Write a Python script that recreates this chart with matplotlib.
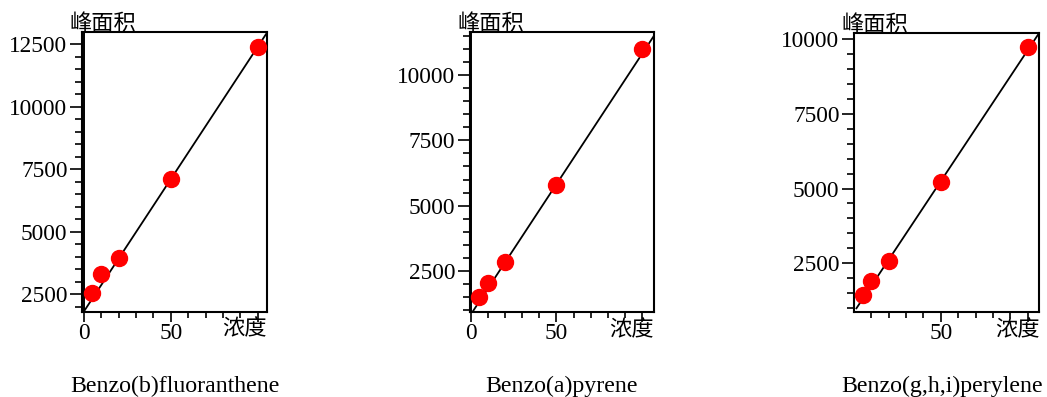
import matplotlib
matplotlib.use("Agg")
import matplotlib.pyplot as plt
from matplotlib.ticker import FixedLocator, MultipleLocator, FuncFormatter
import numpy as np

# ---- data ----
compounds = ["Benzo(b)fluoranthene", "Benzo(a)pyrene", "Benzo(g,h,i)perylene"]
conc = [5, 10, 20, 50, 100]
area_bbf = [2550, 3300, 3930, 7100, 12400]
area_bap = [1500, 2040, 2850, 5800, 11010]
area_bghip = [1440, 1910, 2590, 5220, 9720]
areas = [area_bbf, area_bap, area_bghip]

# calibration lines (intercept, slope) and drawn x-range
fit_intercept = [1792, 800, 872]
fit_slope = [106.0, 100.4, 87.5]
fit_x_start = [0, 1, 1.4]
fit_x_end = [105.3, 106.4, 106.1]

# axis ranges
x_ranges = [(-1.0, 105.3), (-0.6, 106.8), (0.0, 106.7)]
y_ranges = [(1780, 12980), (900, 11654), (861, 10190)]
y_major = [[2500, 5000, 7500, 10000, 12500], [2500, 5000, 7500, 10000], [2500, 5000, 7500, 10000]]
x_major = [[0, 50, 100], [0, 50, 100], [50, 100]]
x_major_labels = [["0", "50", ""], ["0", "50", ""], ["50", ""]]
x_minor = [10, 20, 30, 40, 60, 70, 80, 90]

y_label = "峰面积"
x_label = "浓度"

# ---- layout (figure pixels) ----
W, H = 1047, 397
boxes = [(82, 32, 267, 312), (469.5, 32.3, 654, 312.3), (854, 33.3, 1039.3, 312.3)]
title_centers = [174.7, 562, 942]

serif = ["Liberation Serif", "DejaVu Serif"]
cjk = ["Noto Sans CJK SC", "DejaVu Sans"]

fig = plt.figure(figsize=(W / 100, H / 100), dpi=100)

for i in range(3):
    l, t, r, b = boxes[i]
    ax = fig.add_axes([l / W, (H - b) / H, (r - l) / W, (b - t) / H])
    xs = np.array([fit_x_start[i], fit_x_end[i]])
    ax.plot(xs, fit_intercept[i] + fit_slope[i] * xs, color="black", lw=1.3, zorder=2)
    ax.plot(conc, areas[i], "o", color="#ff0000", ms=11.5, mec="#ff0000", zorder=3)
    if x_ranges[i][0] < 0:
        ax.axvline(0, color="black", lw=1.4, zorder=1)
    ax.set_xlim(*x_ranges[i])
    ax.set_ylim(*y_ranges[i])

    for s in ax.spines.values():
        s.set_linewidth(1.5)
        s.set_color("black")

    ax.xaxis.set_major_locator(FixedLocator(x_major[i]))
    ax.set_xticklabels(x_major_labels[i])
    ax.xaxis.set_minor_locator(FixedLocator(x_minor))
    ax.yaxis.set_major_locator(FixedLocator(y_major[i]))
    ax.yaxis.set_minor_locator(MultipleLocator(500))
    ax.yaxis.set_major_formatter(FuncFormatter(lambda v, p: str(int(round(v)))))

    ax.tick_params(axis="y", which="major", direction="out", length=8.8, width=1.2, pad=1.6)
    ax.tick_params(axis="y", which="minor", direction="out", length=5, width=1.2)
    ax.tick_params(axis="x", which="major", direction="out", length=7.2, width=1.2, pad=0.8)
    ax.tick_params(axis="x", which="minor", direction="out", length=4.3, width=1.2)
    for lab in ax.get_xticklabels() + ax.get_yticklabels():
        lab.set_fontfamily(serif)
        lab.set_fontsize(16.8)

    ax.annotate(x_label, xy=(1, 0), xycoords="axes fraction", xytext=(0, -4.0),
                textcoords="offset points", ha="right", va="top",
                fontsize=16, family=cjk)
    ax.annotate(y_label, xy=(0, 1), xycoords="axes fraction", xytext=(-9.0, 1.4),
                textcoords="offset points", ha="left", va="baseline",
                fontsize=16, family=cjk)

    fig.text(title_centers[i] / W, 5 / H, compounds[i], ha="center", va="baseline",
             fontsize=17.2, family=serif)

fig.savefig("out.png", dpi=100, facecolor="white")
